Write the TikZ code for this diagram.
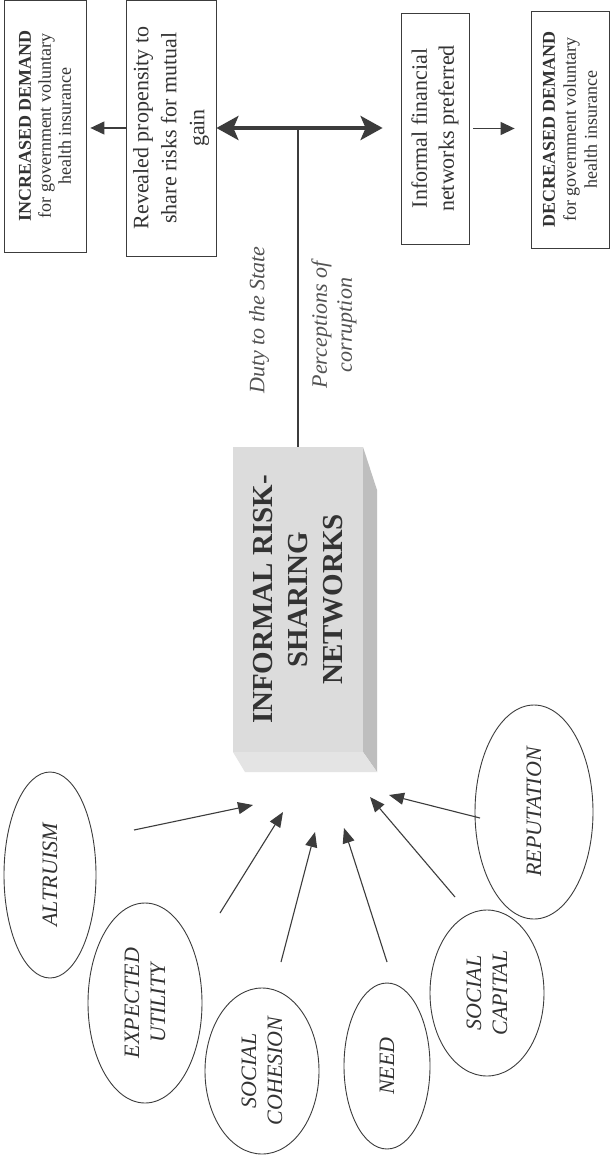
\documentclass[tikz,border=0pt]{standalone}
\usepackage{fontspec}
\setmainfont{Liberation Serif}
\usetikzlibrary{shapes.geometric,arrows.meta,calc}
\definecolor{ink}{HTML}{333333}
\definecolor{lineink}{HTML}{3C3C3C}
\definecolor{facefront}{HTML}{DCDCDC}
\definecolor{faceside}{HTML}{BEBEBE}
\definecolor{facebottom}{HTML}{E4E4E4}
\tikzset{
  outbox/.style={draw=lineink, line width=0.8pt, rotate=90, align=center, inner sep=2pt, text=ink},
  ell/.style={ellipse, draw=lineink, line width=0.9pt, rotate=90, align=center, inner sep=0pt,
    font=\fontsize{22}{26}\selectfont\itshape, text=ink},
  thinarrow/.style={draw=lineink, line width=1.2pt, -{Triangle[length=14pt,width=13pt]}},
  earrow/.style={draw=lineink, line width=1.1pt, -{Triangle[length=15pt,width=12pt]}},
  biglabel/.style={rotate=90, align=center, text=ink!85, font=\fontsize{22}{25}\selectfont\itshape}
}
\begin{document}
\begin{tikzpicture}[x=1pt,y=-1pt]
\useasboundingbox[fill=white] (0,0) rectangle (610,1155);

% top row of boxes
\node[outbox, minimum width=252pt, minimum height=82pt, font=\fontsize{18}{20}\selectfont] (incr) at (45,126)
  {\textbf{INCREASED DEMAND}\\for government voluntary\\health insurance};
\node[outbox, minimum width=256pt, minimum height=90pt, font=\fontsize{22}{28}\selectfont] (reveal) at (171,128)
  {Revealed propensity to\\share risks for mutual\\gain};
\node[outbox, minimum width=231pt, minimum height=68pt, font=\fontsize{22}{27}\selectfont] (infin) at (435,128.5)
  {Informal financial\\networks preferred};
\node[outbox, minimum width=237pt, minimum height=78pt, font=\fontsize{18}{21}\selectfont] (decr) at (570,129.5)
  {\textbf{DECREASED DEMAND}\\for government voluntary\\health insurance};

% central 3D box
\fill[faceside] (363,447) -- (377,490) -- (377,772) -- (363,752) -- cycle;
\fill[facebottom] (233,752) -- (363,752) -- (377,772) -- (245,772) -- cycle;
\node[rotate=90, fill=facefront, minimum width=305pt, minimum height=130pt, inner sep=0pt,
  align=center, text=ink, font=\fontsize{29}{35}\selectfont\bfseries] (net) at (298,599.5)
  {INFORMAL RISK-\\SHARING\\NETWORKS};

% connectors at the top
\draw[thinarrow, shorten >=4pt] (reveal.north) -- (reveal.north -| incr.south);
\draw[draw=lineink, line width=4pt,
  {Stealth[length=22pt,width=24pt,inset=5pt]}-{Stealth[length=22pt,width=24pt,inset=5pt]},
  shorten >=18pt] (reveal.south) -- (reveal.south -| infin.north);
\draw[lineink, line width=2.5pt] (net.east) -- (net.east |- reveal.south);
\draw[thinarrow, shorten <=4pt, shorten >=16pt] (infin.south) -- (infin.south -| decr.north);

% labels on the stem
\node[biglabel] (duty) at (259,320) {Duty to the State};
\node[biglabel] (perc) at (334,325) {Perceptions of\\corruption};

% ellipses
\node[ell, minimum width=206pt, minimum height=92pt] (alt) at (50,875) {ALTRUISM};
\node[ell, minimum width=200pt, minimum height=114pt] (exp) at (145,1003) {EXPECTED\\UTILITY};
\node[ell, minimum width=166pt, minimum height=114pt] (coh) at (262,1071) {SOCIAL\\COHESION};
\node[ell, minimum width=166pt, minimum height=86pt] (need) at (387,1066) {NEED};
\node[ell, minimum width=166pt, minimum height=114pt] (cap) at (487,993) {SOCIAL\\CAPITAL};
\node[ell, minimum width=214pt, minimum height=118pt] (rep) at (534,812) {REPUTATION};

% arrow targets below the box
\coordinate (t1) at (253,805);
\coordinate (t2) at (283,812);
\coordinate (t3) at (315,832);
\coordinate (t4) at (344,828);
\coordinate (t5) at (370,797);
\coordinate (t6) at (389,795);

\draw[earrow] ($(alt.center)+(84,-45)$) -- (t1);
\draw[earrow] ($(exp.center)+(75,-90)$) -- (t2);
\draw[earrow] ($(coh.center)+(19,-109)$) -- (t3);
\draw[earrow] ($(need.center)+(0,-104)$) -- (t4);
\draw[earrow] ($(cap.center)+(-32,-96)$) -- (t5);
\draw[earrow] ($(rep.center)+(-54,6)$) -- (t6);
\end{tikzpicture}
\end{document}
